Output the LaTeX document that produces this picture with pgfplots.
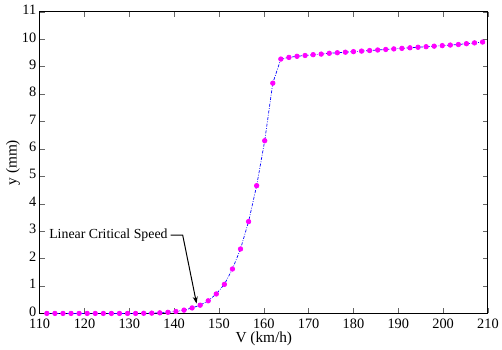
\documentclass[border=0pt]{standalone}
\usepackage{pgfplots}
\pgfplotsset{compat=1.18}
\usetikzlibrary{arrows.meta}
\usepackage{fontspec}
\setmainfont{Liberation Serif}
\definecolor{mag}{RGB}{255,0,255}
\definecolor{lineblue}{RGB}{0,0,255}
\begin{document}
\begin{tikzpicture}[x=1bp,y=1bp]
\begin{axis}[
  name=ax,
  scale only axis,
  width=452bp, height=304bp,
  xmin=110, xmax=210, ymin=0, ymax=11,
  xtick={110,120,...,210},
  ytick={0,1,...,11},
  tick align=inside,
  major tick length=5bp,
  axis line style={line width=1bp},
  tick style={line width=0.5bp, black!60},
  /pgf/number format/assume math mode=true,
  ticklabel style={font=\fontsize{14.5}{16}\selectfont},
  xlabel={V (km/h)}, ylabel={y (mm)},
  label style={font=\fontsize{15.5}{17}\selectfont},
  xlabel style={yshift=3bp},
  ylabel style={yshift=-5bp},
  xticklabel style={yshift=-2bp},
  yticklabel style={yshift=2bp},
  clip=true,
]
\addplot[lineblue, line width=0.7bp, dash pattern=on 3bp off 1.5bp on 0.8bp off 1.5bp, mark=*, mark size=2.3bp, mark options={solid, fill=mag, draw=mag}] coordinates {
(111.6,0.0)(113.4,0.0)(115.2,0.0)(117.0,0.0)(118.8,0.0)(120.6,0.0)(122.4,0.0)(124.2,0.0)
(126.0,0.0)(127.8,0.0)(129.6,0.0)(131.4,0.0)(133.2,0.005)(135.0,0.01)(136.8,0.02)(138.6,0.04)
(140.4,0.07)(142.2,0.12)(144.0,0.2)(145.8,0.3)(147.6,0.46)(149.4,0.71)(151.2,1.06)(153.0,1.62)
(154.8,2.35)(156.6,3.35)(158.4,4.66)(160.2,6.3)(162.0,8.4)(163.8,9.28)
(165.6,9.34)(167.4,9.38)(169.2,9.41)(171.0,9.44)(172.8,9.46)(174.6,9.49)(176.4,9.51)(178.2,9.53)
(180.0,9.55)(181.8,9.57)(183.6,9.59)(185.4,9.61)(187.2,9.63)(189.0,9.65)(190.8,9.67)(192.6,9.69)
(194.4,9.71)(196.2,9.73)(198.0,9.75)(199.8,9.77)(201.6,9.79)(203.4,9.81)(205.2,9.84)(207.0,9.87)(208.8,9.9)
};
\node[anchor=east, inner sep=1bp, font=\fontsize{14}{16}\selectfont] at (axis cs:138.8,2.86) {Linear Critical Speed};
\draw[-{Stealth[length=7bp,width=5bp]}, line width=1bp] (axis cs:139.2,2.86) -- (axis cs:141.9,2.86) -- (axis cs:145.0,0.36);
\end{axis}
\path[use as bounding box] ([shift={(-40bp,-35bp)}]ax.south west) rectangle ([shift={(10bp,12bp)}]ax.north east);
\end{tikzpicture}
\end{document}
